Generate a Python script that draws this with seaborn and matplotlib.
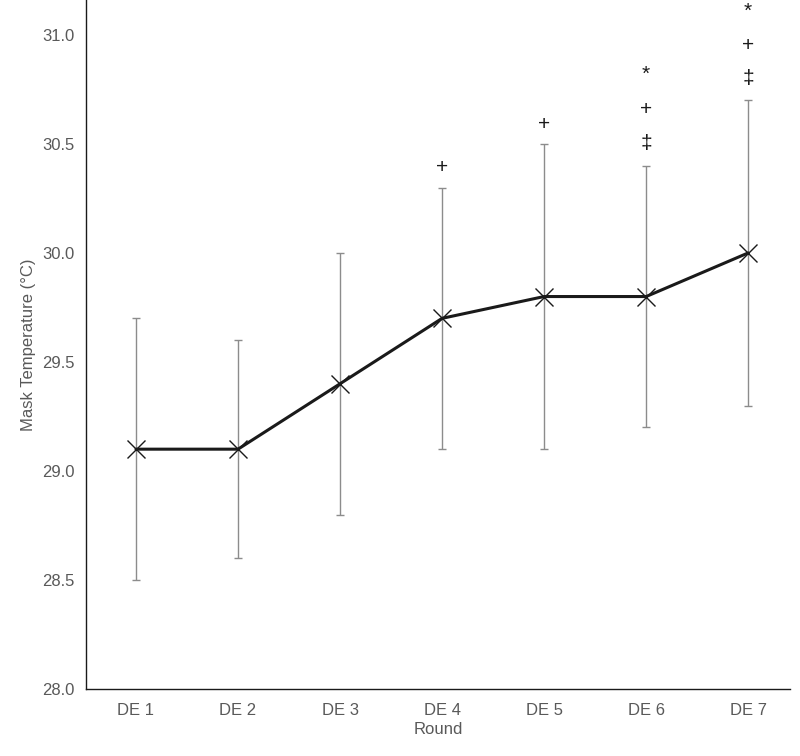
import matplotlib
matplotlib.use("Agg")
import matplotlib.pyplot as plt
import seaborn as sns
import pandas as pd

rounds = ["DE 1", "DE 2", "DE 3", "DE 4", "DE 5", "DE 6", "DE 7"]
mean_temp = [29.1, 29.1, 29.4, 29.7, 29.8, 29.8, 30.0]
upper = [29.7, 29.6, 30.0, 30.3, 30.5, 30.4, 30.7]
lower = [28.5, 28.6, 28.8, 29.1, 29.1, 29.2, 29.3]
# significance marks per round: (symbol, y)
marks = {
    3: [("+", 30.39)],
    4: [("+", 30.59)],
    5: [("‡", 30.50), ("+", 30.66), ("*", 30.82)],
    6: [("‡", 30.80), ("+", 30.95), ("*", 31.11)],
}

df = pd.DataFrame({"Round": rounds, "Temp": mean_temp, "x": range(len(rounds))})

sns.set_style("white")
plt.rcParams["font.family"] = ["Liberation Sans", "DejaVu Sans"]
grey = "#595959"

fig = plt.figure(figsize=(8, 7.56), dpi=100)
ax = fig.add_axes([0.1075, 0.0886, 0.88, 0.9114])

yerr = [[m - l for m, l in zip(mean_temp, lower)], [u - m for m, u in zip(mean_temp, upper)]]
ax.errorbar(df["x"], df["Temp"], yerr=yerr, fmt="none", ecolor="#8c8c8c", elinewidth=1, capsize=3, capthick=1)
sns.lineplot(data=df, x="x", y="Temp", ax=ax, color="#1a1a1a", linewidth=2.2, marker="x",
             markersize=13, markeredgewidth=1.0, markeredgecolor="#1a1a1a")

for i, items in marks.items():
    for sym, y in items:
        ax.text(i, y, sym, ha="center", va="center", fontsize=15, color="#1a1a1a", clip_on=False)

ax.set_xlim(-0.49, 6.41)
ax.set_ylim(28.0, 31.16)
ax.set_yticks([28.0, 28.5, 29.0, 29.5, 30.0, 30.5, 31.0])
ax.set_yticklabels([f"{v:.1f}" for v in [28.0, 28.5, 29.0, 29.5, 30.0, 30.5, 31.0]])
ax.set_xticks(df["x"])
ax.set_xticklabels(rounds)
ax.tick_params(axis="both", colors="#8c8c8c", labelsize=12, length=5, width=1, labelcolor=grey)
ax.tick_params(axis="x", length=0, pad=10)
ax.set_xlabel("Round", color=grey, fontsize=12, labelpad=3)
ax.set_ylabel("Mask Temperature (°C)", color=grey, fontsize=12)
sns.despine(ax=ax)
for s in ["left", "bottom"]:
    ax.spines[s].set_color("#1a1a1a")
    ax.spines[s].set_linewidth(1)

fig.savefig("out.png", dpi=100)
